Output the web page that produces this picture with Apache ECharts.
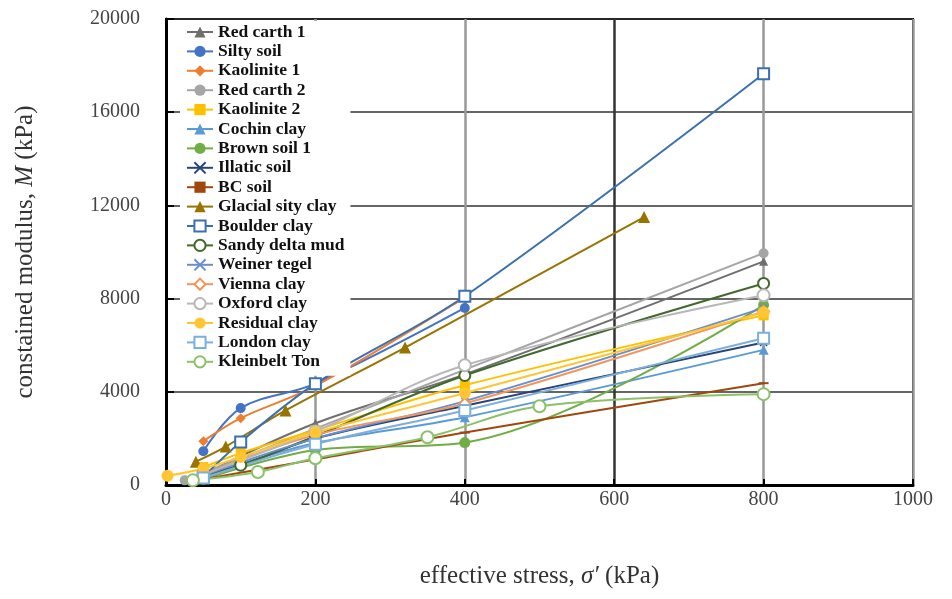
<!DOCTYPE html>
<html>
<head>
<meta charset="utf-8">
<script src="https://cdn.jsdelivr.net/npm/echarts@6/dist/echarts.min.js"></script>
<style>
html,body{margin:0;padding:0;background:#fff;}
#chart{width:952px;height:599px;}
</style>
</head>
<body>
<div id="chart"></div>
<script>
const seriesNames = ['Red carth 1','Silty soil','Kaolinite 1','Red carth 2','Kaolinite 2','Cochin clay','Brown soil 1','Illatic soil','BC soil','Glacial sity clay','Boulder clay','Sandy delta mud','Weiner tegel','Vienna clay','Oxford clay','Residual clay','London clay','Kleinbelt Ton'];
const xTicks = [0,200,400,600,800,1000];
const yTicks = [0,4000,8000,12000,16000,20000];

const redEarth1    = [[50,450],[200,2650],[400,4750],[800,9600]];
const siltySoil    = [[50,1450],[100,3300],[200,4350],[400,7600]];
const kaolinite1   = [[50,1880],[100,2870],[200,4250],[400,8050]];
const redEarth2    = [[25,200],[400,4950],[800,9950]];
const kaolinite2   = [[50,770],[100,1370],[200,2350],[400,4280],[800,7280]];
const cochinClay   = [[50,350],[100,900],[200,1800],[400,2910],[800,5800]];
const brownSoil1   = [[50,250],[200,1500],[400,1820],[800,7720]];
const illaticSoil  = [[50,400],[100,850],[200,2000],[400,3400],[800,6120]];
const bcSoil       = [[50,250],[200,1100],[400,2250],[800,4370]];
const glacialClay  = [[40,1000],[80,1650],[160,3200],[320,5900],[640,11500]];
const boulderClay  = [[50,350],[100,1850],[200,4350],[400,8100],[800,17650]];
const sandyDelta   = [[50,400],[100,850],[200,2100],[400,4700],[800,8650]];
const weinerTegel  = [[50,400],[200,2000],[400,3600],[800,7600]];
const viennaClay   = [[50,450],[200,2150],[400,3500],[800,7450]];
const oxfordClay   = [[50,450],[200,2300],[400,5140],[800,8140]];
const residualClay = [[2,400],[50,700],[100,1200],[200,2250],[400,3950],[800,7400]];
const londonClay   = [[50,300],[200,1750],[400,3200],[800,6300]];
const kleinbeltTon = [[36,200],[123,560],[200,1150],[350,2050],[500,3380],[800,3900]];

const seriesData = [redEarth1,siltySoil,kaolinite1,redEarth2,kaolinite2,cochinClay,brownSoil1,illaticSoil,bcSoil,glacialClay,boulderClay,sandyDelta,weinerTegel,viennaClay,oxfordClay,residualClay,londonClay,kleinbeltTon];

const X = 'path://M0,0L10,10M10,0L0,10';
const styles = [
  {c:'#6f6f6f', s:'triangle', z:9},
  {c:'#4472C4', s:'circle', z:10},
  {c:'#ED7D31', s:'diamond', z:10},
  {c:'#A5A5A5', s:'circle', z:10},
  {c:'#FFC000', s:'rect', z:10},
  {c:'#5B9BD5', s:'triangle', z:10},
  {c:'#70AD47', s:'circle', z:11},
  {c:'#264478', s:X, z:7, cross:true},
  {c:'#9E480E', s:'rect', z:[10,2]},
  {c:'#997300', s:'triangle', z:12},
  {c:'#3B70B0', s:'emptyRect', z:11},
  {c:'#43682B', s:'emptyCircle', z:11},
  {c:'#698ED0', s:X, z:7, cross:true},
  {c:'#F1975A', s:'emptyDiamond', z:11},
  {c:'#B7B7B7', s:'emptyCircle', z:12},
  {c:'#FFC533', s:'circle', z:12},
  {c:'#7CAFDD', s:'emptyRect', z:11},
  {c:'#8CC168', s:'emptyCircle', z:12}
];

const series = seriesNames.map((name,i)=>{
  const st = styles[i];
  const item = st.cross ? {color:st.c, borderColor:st.c, borderWidth:1.5}
    : (st.s.indexOf('empty')===0 ? {color:st.c, borderWidth:1.5} : {color:st.c});
  return {
    name, type:'line', data: seriesData[i],
    smooth: 0.35,
    symbol: st.s, symbolSize: st.z,
    showAllSymbol: true,
    lineStyle:{color:st.c, width:2},
    itemStyle: item,
    emphasis:{disabled:true},
    z: 2
  };
});

const serif = '"Liberation Serif","Times New Roman",serif';
const chart = echarts.init(document.getElementById('chart'), null, {renderer:'canvas'});
chart.setOption({
  backgroundColor:'#fff',
  animation:false,
  grid:{left:166, right:39, top:19, bottom:114, show:true, borderColor:'#000', borderWidth:2, backgroundColor:'transparent'},
  legend:{
    orient:'vertical', left:180, top:21, itemGap:1.4, itemWidth:26, itemHeight:14,
    backgroundColor:'#fff', padding:[2,6,5,6], z:20,
    textStyle:{fontFamily:serif, fontWeight:'bold', fontSize:17.5, color:'#111'},
    data: seriesNames
  },
  xAxis:{
    type:'value', min:xTicks[0], max:xTicks[xTicks.length-1], interval:200,
    name:'effective stress, {i|σ′} (kPa)', nameLocation:'middle', nameGap:79,
    nameTextStyle:{fontFamily:serif, fontSize:25, color:'#333', rich:{i:{fontFamily:serif, fontSize:25, fontStyle:'italic', color:'#333'}}},
    axisLine:{show:true, lineStyle:{color:'#000', width:3}},
    axisTick:{show:true, inside:true, length:6, lineStyle:{color:'#000', width:2}},
    axisLabel:{fontFamily:serif, fontSize:20, color:'#444', margin:5, formatter:v=>String(v)},
    splitLine:{show:true, lineStyle:{color:['#999','#999','#999','#333','#999','#999'], width:2.5}}
  },
  yAxis:{
    type:'value', min:yTicks[0], max:yTicks[yTicks.length-1], interval:4000,
    name:'constained modulus, {i|M} (kPa)', nameLocation:'middle', nameGap:128,
    nameTextStyle:{fontFamily:serif, fontSize:25, color:'#333', rich:{i:{fontFamily:serif, fontSize:25, fontStyle:'italic', color:'#333'}}},
    axisLine:{show:true, lineStyle:{color:'#000', width:3}},
    axisTick:{show:true, inside:true, length:8, lineStyle:{color:'#000', width:2}},
    axisLabel:{fontFamily:serif, fontSize:20, color:'#444', margin:26, formatter:v=>String(v)},
    splitLine:{show:true, lineStyle:{color:'#333', width:1.5}}
  },
  series
});
</script>
</body>
</html>
